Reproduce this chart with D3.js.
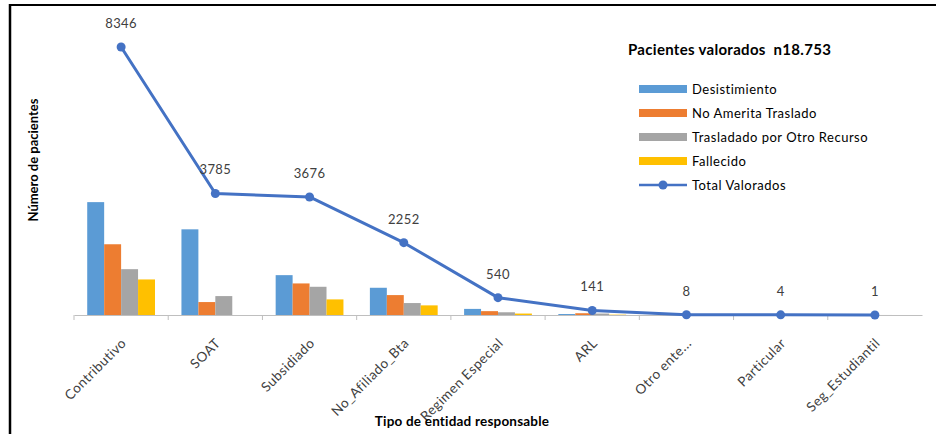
<!DOCTYPE html>
<html>
<head>
<meta charset="utf-8">
<script src="https://cdn.jsdelivr.net/npm/d3@7"></script>
<style>
  html, body { margin: 0; padding: 0; background: #fff; }
  svg { display: block; font-family: Lato, "Open Sans", sans-serif; }
</style>
</head>
<body>
<svg id="chart" width="936" height="434"></svg>
<script>
// Categorías (tipo de entidad responsable)
const categories = ["Contributivo", "SOAT", "Subsidiado", "No_Afiliado_Bta", "Regimen Especial",
                    "ARL", "Otro ente...", "Particular", "Seg_Estudiantil"];

// Series de barras
const seriesNames = ["Desistimiento", "No Amerita Traslado", "Trasladado por Otro Recurso", "Fallecido"];
const desistimiento = [3515, 2668, 1241, 848, 190, 30, 4, 2, 0];
const noAmerita     = [2203,  403,  983, 620, 120, 55, 2, 1, 0];
const trasladado    = [1427,  589,  879, 372,  85, 45, 1, 1, 1];
const fallecido     = [1107,    0,  486, 300,  45, 11, 1, 0, 0];

// Serie de línea
const totalValorados = [8346, 3785, 3676, 2252, 540, 141, 8, 4, 1];
const lineName = "Total Valorados";

const legendTitle = "Pacientes valorados  n18.753";
const yTitle = "Número de pacientes";
const xTitle = "Tipo de entidad responsable";

const barColors = ["#5B9BD5", "#ED7D31", "#A5A5A5", "#FFC000"];
const lineColor = "#4472C4";

const barValues = [desistimiento, noAmerita, trasladado, fallecido];

const svg = d3.select("#chart");

// Marco
svg.append("line").attr("x1", 10).attr("x2", 936).attr("y1", 5).attr("y2", 5)
  .attr("stroke", "#000").attr("stroke-width", 2);
svg.append("line").attr("x1", 10).attr("x2", 10).attr("y1", 4).attr("y2", 434)
  .attr("stroke", "#000").attr("stroke-width", 2.5);

// Escalas
const x0 = d3.scaleBand().domain(categories).range([74, 922]).padding(0);
const x1 = d3.scaleBand().domain(seriesNames).range([0, x0.bandwidth()])
  .paddingInner(0).paddingOuter(0.78);
const y = d3.scaleLinear().domain([0, 9000]).range([315, 26]);

// Barras
const groups = svg.append("g").selectAll("g")
  .data(categories)
  .join("g")
  .attr("transform", d => `translate(${x0(d)},0)`);

groups.selectAll("rect")
  .data((c, i) => seriesNames.map((s, k) => ({ s, k, v: barValues[k][i] })))
  .join("rect")
  .attr("x", d => x1(d.s))
  .attr("width", x1.bandwidth())
  .attr("y", d => y(d.v))
  .attr("height", d => y(0) - y(d.v))
  .attr("fill", d => barColors[d.k]);

// Eje X
const xAxis = svg.append("g")
  .attr("transform", `translate(0,${y(0)})`)
  .call(d3.axisBottom(x0).tickSize(0).tickSizeOuter(0).tickPadding(0))
  .attr("font-family", "Lato, 'Open Sans', sans-serif");
xAxis.select(".domain").attr("stroke", "#BFBFBF").attr("stroke-width", 1);
xAxis.selectAll(".tick text")
  .attr("font-size", 13.5)
  .attr("letter-spacing", 0.5)
  .attr("fill", "#404040")
  .attr("text-anchor", "end")
  .attr("dy", 0)
  .attr("transform", "translate(6,29) rotate(-45)");

// Marcas entre categorías
const boundaries = categories.map(c => x0(c));
svg.append("g").selectAll("line")
  .data(boundaries)
  .join("line")
  .attr("x1", d => d).attr("x2", d => d)
  .attr("y1", y(0)).attr("y2", y(0) + 5)
  .attr("stroke", "#BFBFBF").attr("stroke-width", 1);

// Línea de totales
const cx = c => x0(c) + x0.bandwidth() / 2;
const line = d3.line()
  .x((d, i) => cx(categories[i]))
  .y(d => y(d));

svg.append("path")
  .datum(totalValorados)
  .attr("fill", "none")
  .attr("stroke", lineColor)
  .attr("stroke-width", 3)
  .attr("stroke-linejoin", "round")
  .attr("d", line);

svg.append("g").selectAll("circle")
  .data(totalValorados)
  .join("circle")
  .attr("cx", (d, i) => cx(categories[i]))
  .attr("cy", d => y(d))
  .attr("r", 4.5)
  .attr("fill", lineColor);

svg.append("g").selectAll("text")
  .data(totalValorados)
  .join("text")
  .attr("x", (d, i) => cx(categories[i]))
  .attr("y", d => y(d) - 19)
  .attr("text-anchor", "middle")
  .attr("font-size", 13)
  .attr("letter-spacing", 0.4)
  .attr("fill", "#404040")
  .text(d => d);

// Títulos de ejes
svg.append("text")
  .attr("transform", "translate(38,160) rotate(-90)")
  .attr("text-anchor", "middle")
  .attr("font-size", 13)
  .attr("font-weight", "bold")
  .attr("fill", "#000")
  .text(yTitle);

svg.append("text")
  .attr("x", 462).attr("y", 426)
  .attr("text-anchor", "middle")
  .attr("font-size", 13.5)
  .attr("letter-spacing", 0.2)
  .attr("font-weight", "bold")
  .attr("fill", "#000")
  .text(xTitle);

// Leyenda
const legend = svg.append("g");
legend.append("text")
  .attr("x", 628).attr("y", 55)
  .attr("font-size", 15)
  .attr("letter-spacing", 0.3)
  .attr("font-weight", "bold")
  .attr("fill", "#000")
  .style("white-space", "pre")
  .text(legendTitle);

const legendItems = seriesNames.concat([lineName]);
const li = legend.selectAll("g.item")
  .data(legendItems)
  .join("g")
  .attr("class", "item")
  .attr("transform", (d, i) => `translate(639,${89 + i * 24})`);

li.filter((d, i) => i < 4).append("rect")
  .attr("x", 0).attr("y", -4).attr("width", 48).attr("height", 8)
  .attr("fill", (d, i) => barColors[i]);

const lineItem = li.filter((d, i) => i === 4);
lineItem.append("line")
  .attr("x1", 0).attr("x2", 48).attr("y1", 0).attr("y2", 0)
  .attr("stroke", lineColor).attr("stroke-width", 2.5);
lineItem.append("circle")
  .attr("cx", 24).attr("cy", 0).attr("r", 4.5).attr("fill", lineColor);

li.append("text")
  .attr("x", 53).attr("y", 0).attr("dy", "0.36em")
  .attr("font-size", 13)
  .attr("letter-spacing", 0.5)
  .attr("fill", "#000")
  .text(d => d);
</script>
</body>
</html>
